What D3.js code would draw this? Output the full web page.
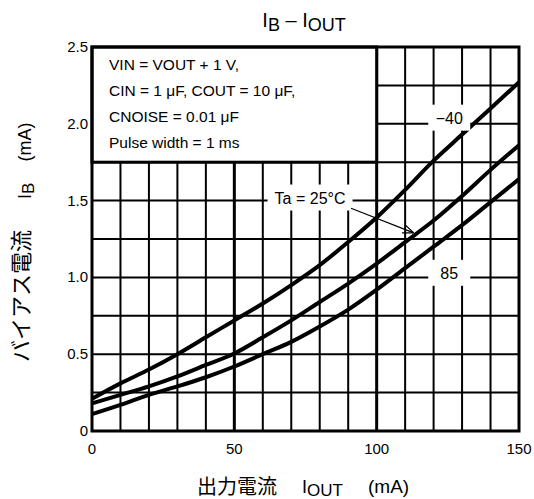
<!DOCTYPE html>
<html lang="ja">
<head>
    <meta charset="UTF-8">
    <title>IB - IOUT</title>
    <script src="https://d3js.org/d3.v7.min.js"></script>
    <style>
        body { margin: 0; background: #fff; }
        svg { display: block; font-family: "Liberation Sans", Arial, "Noto Sans CJK JP", sans-serif; }
        .cjk { font-family: "Noto Sans CJK JP", sans-serif; }
    </style>
    <script>
        // output current (mA)
        const iout = [0, 10, 20, 30, 40, 50, 60, 70, 80, 90, 100, 110, 120, 130, 140, 150];
        // bias current IB (mA) per temperature
        const ibMinus40 = [0.21, 0.31, 0.40, 0.50, 0.61, 0.72, 0.83, 0.95, 1.08, 1.23, 1.39, 1.57, 1.76, 1.93, 2.10, 2.27];
        const ib25 = [0.18, 0.235, 0.29, 0.355, 0.43, 0.505, 0.61, 0.72, 0.84, 0.96, 1.09, 1.23, 1.37, 1.53, 1.70, 1.86];
        const ib85 = [0.11, 0.17, 0.235, 0.29, 0.35, 0.42, 0.50, 0.58, 0.68, 0.79, 0.92, 1.06, 1.20, 1.34, 1.49, 1.64];
        const xTicks = [0, 50, 100, 150];
        const yTicks = [0, 0.5, 1.0, 1.5, 2.0, 2.5];
        const conditions = ["VIN = VOUT + 1 V,", "CIN = 1 \u03bcF, COUT = 10 \u03bcF,", "CNOISE = 0.01 \u03bcF", "Pulse width = 1 ms"];

        document.addEventListener("DOMContentLoaded", () => makeGraph());

        function makeGraph() {
            const width = 534, height = 499;
            const margins = {top: 47, right: 15, bottom: 68, left: 92};
            const w = width - margins.left - margins.right;
            const h = height - margins.top - margins.bottom;

            let svg = d3.select("svg").attr("width", width).attr("height", height);
            const g = svg.append("g").attr("transform", `translate(${margins.left},${margins.top})`);

            const xScale = d3.scaleLinear().domain([0, 150]).range([0, w]);
            const yScale = d3.scaleLinear().domain([0, 2.5]).range([h, 0]);

            // grid
            g.selectAll(".vgrid").data(d3.range(10, 150, 10)).enter().append("line")
                .attr("x1", d => xScale(d)).attr("x2", d => xScale(d))
                .attr("y1", 0).attr("y2", h)
                .attr("stroke", "#000")
                .attr("stroke-width", d => d % 50 === 0 ? 3 : 2);
            g.selectAll(".hgrid").data(d3.range(0.25, 2.5, 0.25)).enter().append("line")
                .attr("x1", 0).attr("x2", w)
                .attr("y1", d => yScale(d)).attr("y2", d => yScale(d))
                .attr("stroke", "#000").attr("stroke-width", 2);

            // conditions box
            g.append("rect")
                .attr("x", xScale(0)).attr("y", yScale(2.5))
                .attr("width", xScale(100) - xScale(0))
                .attr("height", yScale(1.75) - yScale(2.5))
                .attr("fill", "#fff").attr("stroke", "#000").attr("stroke-width", 3);
            g.selectAll(".cond").data(conditions).enter().append("text")
                .attr("x", 17).attr("y", (d, i) => 23 + i * 26)
                .attr("font-size", 15.5).text(d => d);

            // curves
            const line = d3.line()
                .x((d, i) => xScale(iout[i]))
                .y(d => yScale(d))
                .curve(d3.curveMonotoneX);
            [ibMinus40, ib25, ib85].forEach(s => {
                g.append("path").attr("d", line(s))
                    .attr("fill", "none").attr("stroke", "#000").attr("stroke-width", 4);
            });

            // frame
            g.append("rect").attr("width", w).attr("height", h)
                .attr("fill", "none").attr("stroke", "#000").attr("stroke-width", 3);

            // curve labels
            function label(text, xv, yv, bw) {
                g.append("rect")
                    .attr("x", xScale(xv) - bw / 2).attr("y", yScale(yv) - 13)
                    .attr("width", bw).attr("height", 26).attr("fill", "#fff");
                g.append("text").attr("x", xScale(xv)).attr("y", yScale(yv) + 6)
                    .attr("text-anchor", "middle").attr("font-size", 16).text(text);
            }
            label("\u221240", 125.5, 2.04, 42);
            label("85", 125.5, 1.03, 42);
            label("Ta = 25\u00b0C", 76.6, 1.52, 85);

            // arrow
            svg.append("defs").append("marker")
                .attr("id", "arr").attr("viewBox", "0 0 10 10")
                .attr("refX", 10).attr("refY", 5)
                .attr("markerWidth", 9).attr("markerHeight", 9)
                .attr("orient", "auto")
                .append("path").attr("d", "M0,1 L10,5 L0,9")
                .attr("fill", "none").attr("stroke", "#000").attr("stroke-width", 1.2);
            g.append("line")
                .attr("x1", xScale(91)).attr("y1", yScale(1.45))
                .attr("x2", xScale(113)).attr("y2", yScale(1.29))
                .attr("stroke", "#000").attr("stroke-width", 1.2)
                .attr("marker-end", "url(#arr)");

            // tick labels
            g.selectAll(".yt").data(yTicks).enter().append("text")
                .attr("x", -4).attr("y", d => yScale(d) + 5)
                .attr("text-anchor", "end").attr("font-size", 15)
                .text(d => d === 0 ? "0" : d3.format(".1f")(d));
            g.selectAll(".xt").data(xTicks).enter().append("text")
                .attr("x", d => xScale(d)).attr("y", h + 23)
                .attr("text-anchor", "middle").attr("font-size", 15)
                .text(d => d);

            // title
            const t = svg.append("text").attr("x", 304).attr("y", 27)
                .attr("text-anchor", "middle").attr("font-size", 20);
            t.append("tspan").text("I");
            t.append("tspan").attr("dy", 4).attr("font-size", 18).text("B");
            t.append("tspan").attr("dy", -4).text(" \u2013 I");
            t.append("tspan").attr("dy", 4).attr("font-size", 18).text("OUT");

            // x axis title
            svg.append("text").attr("class", "cjk").attr("x", 197).attr("y", 494)
                .attr("font-size", 20).text("出力電流");
            const xi = svg.append("text").attr("x", 302).attr("y", 493).attr("font-size", 18);
            xi.append("tspan").text("I");
            xi.append("tspan").attr("dy", 3).attr("font-size", 17).text("OUT");
            svg.append("text").attr("x", 368).attr("y", 493)
                .attr("font-size", 19).text("(mA)");

            // y axis title
            const yTitle = svg.append("g").attr("transform", "translate(31,0)");
            yTitle.append("text").attr("class", "cjk")
                .attr("transform", "translate(-2,296) rotate(-90)")
                .attr("text-anchor", "middle").attr("font-size", 22).text("バイアス電流");
            const yi = yTitle.append("text")
                .attr("transform", "translate(0,199) rotate(-90)")
                .attr("font-size", 18);
            yi.append("tspan").text("I");
            yi.append("tspan").attr("dy", 3).attr("font-size", 17).text("B");
            yTitle.append("text")
                .attr("transform", "translate(0,142) rotate(-90)")
                .attr("text-anchor", "middle").attr("font-size", 18).text("(mA)");
        }
    </script>
</head>
<body>
    <svg></svg>
</body>
</html>
